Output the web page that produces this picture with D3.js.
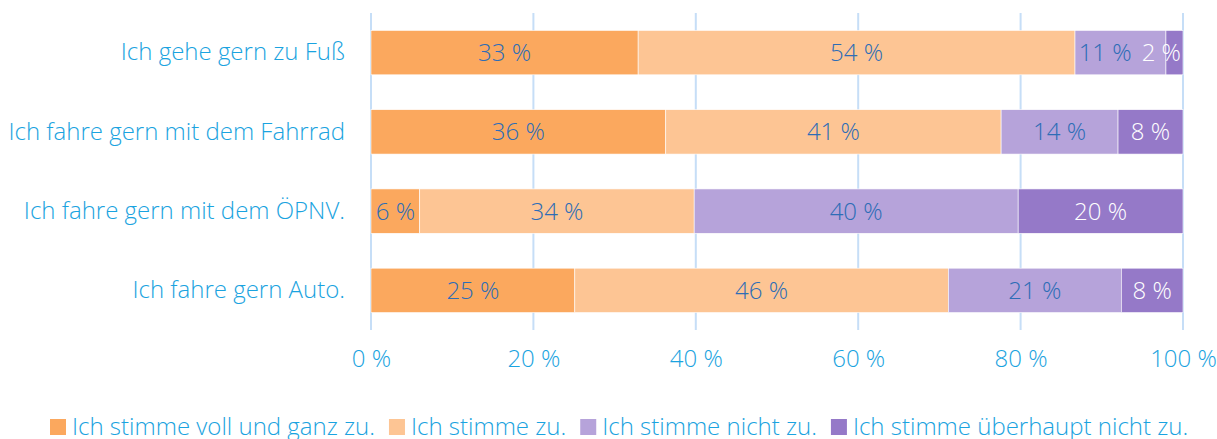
<!DOCTYPE html>
<html>
  <head>
    <meta charset="utf-8" />
    <title>Mobilität – Zustimmung</title>
    <script src="https://d3js.org/d3.v7.min.js"></script>
    <style>
      body {
        margin: 0;
        background: #fff;
        font-family: "Open Sans", sans-serif;
        font-weight: 300;
      }
      svg text {
        font-family: "Open Sans", sans-serif;
        font-weight: 300;
      }
    </style>
  </head>
  <body>
    <svg width="1217" height="439"></svg>

    <script>
      const categories = [
        "Ich gehe gern zu Fuß",
        "Ich fahre gern mit dem Fahrrad",
        "Ich fahre gern mit dem ÖPNV.",
        "Ich fahre gern Auto."
      ];
      const seriesNames = [
        "Ich stimme voll und ganz zu.",
        "Ich stimme zu.",
        "Ich stimme nicht zu.",
        "Ich stimme überhaupt nicht zu."
      ];
      const vollUndGanz = [32.9, 36.3, 6.0, 25.1];
      const zu = [53.8, 41.3, 33.8, 46.0];
      const nichtZu = [11.2, 14.4, 39.9, 21.3];
      const ueberhauptNicht = [2.1, 8.0, 20.3, 7.6];
      const ticks = [0, 20, 40, 60, 80, 100];

      const colors = ["#fba85e", "#fdc594", "#b6a3da", "#9579c8"];
      const labelColors = ["#2d6db6", "#2d6db6", "#2d6db6", "#ffffff"];
      const fontSize = 24;

      const svg = d3.select("svg");
      const margin = { top: 13, right: 34, bottom: 109, left: 371 };
      const innerWidth = 1217 - margin.left - margin.right;
      const innerHeight = 439 - margin.top - margin.bottom;

      const g = svg.append("g")
        .attr("transform", `translate(${margin.left}, ${margin.top})`);

      const x = d3.scaleLinear().domain([0, 100]).range([0, innerWidth]);
      const y = d3.scaleBand().domain(categories).range([0, innerHeight]).paddingInner(0.44).paddingOuter(0.22);

      // grid
      g.selectAll(".grid").data(ticks).join("line")
        .attr("x1", d => x(d)).attr("x2", d => x(d))
        .attr("y1", 0).attr("y2", innerHeight)
        .attr("stroke", "#c6def7").attr("stroke-width", 2);

      const table = categories.map((c, i) => ({
        cat: c,
        s0: vollUndGanz[i], s1: zu[i], s2: nichtZu[i], s3: ueberhauptNicht[i]
      }));
      const stacked = d3.stack().keys(["s0", "s1", "s2", "s3"])(table);

      const layers = g.selectAll(".layer").data(stacked).join("g")
        .attr("fill", (d, i) => colors[i]);

      layers.selectAll("rect").data(d => d).join("rect")
        .attr("x", d => x(d[0]))
        .attr("y", d => y(d.data.cat))
        .attr("width", d => x(d[1]) - x(d[0]))
        .attr("height", y.bandwidth())
        .attr("stroke", "#fff").attr("stroke-width", 0.6);

      // labels, one row at a time so overflowing ones can be nudged left
      const labelG = g.append("g");
      categories.forEach((cat, ci) => {
        const nodes = stacked.map((layer, si) => {
          const d = layer[ci];
          const t = labelG.append("text")
            .attr("y", y(cat) + y.bandwidth() / 2)
            .attr("dy", "0.35em")
            .attr("text-anchor", "middle")
            .attr("font-size", fontSize)
            .attr("fill", labelColors[si])
            .text(`${Math.round(d[1] - d[0])} %`);
          const w = t.node().getComputedTextLength();
          return { t, w, cx: (x(d[0]) + x(d[1])) / 2 };
        });
        // keep the last one inside the bar, then resolve overlaps right to left
        const last = nodes[nodes.length - 1];
        if (last.cx + last.w / 2 > innerWidth - 2) last.cx = innerWidth - 2 - last.w / 2;
        for (let k = nodes.length - 2; k >= 0; k--) {
          const a = nodes[k], b = nodes[k + 1];
          const limit = b.cx - b.w / 2 - 10;
          if (a.cx + a.w / 2 > limit) a.cx = limit - a.w / 2;
        }
        nodes.forEach(n => n.t.attr("x", n.cx));
      });

      // category axis
      const yAxis = g.append("g").call(d3.axisLeft(y).tickSize(0).tickPadding(26));
      yAxis.select(".domain").remove();
      yAxis.selectAll("text")
        .attr("font-size", fontSize).attr("fill", "#1aa3e0");

      // value axis
      const xAxis = g.append("g")
        .attr("transform", `translate(0, ${innerHeight})`)
        .call(d3.axisBottom(x).tickValues(ticks).tickSize(0).tickPadding(20).tickFormat(d => `${d} %`));
      xAxis.select(".domain").remove();
      xAxis.selectAll("text")
        .attr("font-size", fontSize).attr("fill", "#1aa3e0");

      // legend
      const legend = svg.append("g").attr("transform", "translate(50, 427)");
      let lx = 0;
      seriesNames.forEach((name, i) => {
        const item = legend.append("g").attr("transform", `translate(${lx}, 0)`);
        item.append("rect")
          .attr("x", 0).attr("y", -8).attr("width", 16).attr("height", 16)
          .attr("fill", colors[i]);
        const t = item.append("text")
          .attr("x", 22).attr("dy", "0.35em")
          .attr("font-size", fontSize).attr("fill", "#1aa3e0")
          .text(name);
        lx += 22 + t.node().getComputedTextLength() + 14;
      });
    </script>
  </body>
</html>
